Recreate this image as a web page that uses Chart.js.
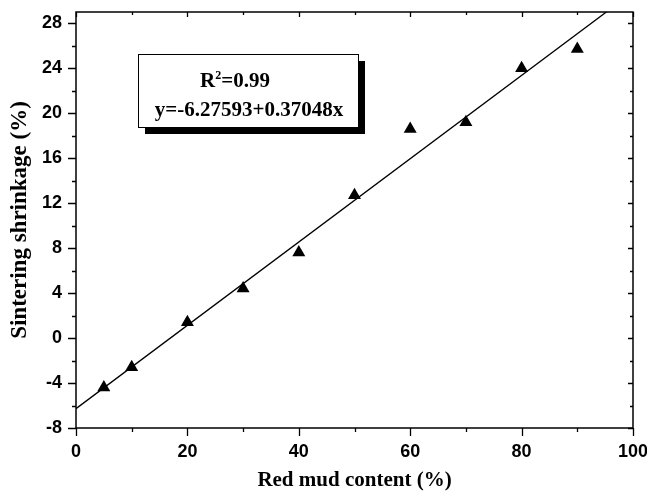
<!DOCTYPE html>
<html><head><meta charset="utf-8">
<script src="https://cdn.jsdelivr.net/npm/chart.js@4.4.1/dist/chart.umd.min.js"></script>
<style>html,body{margin:0;padding:0;background:#fff}canvas{display:block}</style>
</head><body>
<canvas id="c" width="647" height="494"></canvas>
<script>
// ---- data ----
const redMud = [5, 10, 20, 30, 40, 50, 60, 70, 80, 90];
const shrinkage = [-4.4, -2.6, 1.4, 4.4, 7.6, 12.7, 18.6, 19.2, 24.0, 25.7];
const fitX = [0, 100];
const fitY = [-6.27593, 30.77207];
const xTicks = [0, 20, 40, 60, 80, 100];
const xMinor = [10, 30, 50, 70, 90];
const yTicks = [-8, -4, 0, 4, 8, 12, 16, 20, 24, 28];
const yMinor = [-6, -2, 2, 6, 10, 14, 18, 22, 26];
const r2Text = ['R', '2', '=0.99'];
const eqText = 'y=-6.27593+0.37048x';
const xTitle = 'Red mud content (%)';
const yTitle = 'Sintering shrinkage (%)';

const SANS = "'Liberation Sans', Arial, sans-serif";
const SERIF = "'Liberation Serif', 'Times New Roman', serif";

const framePlugin = {
  id: 'frame',
  afterDraw(chart) {
    const ctx = chart.ctx, ca = chart.chartArea;
    const xs = chart.scales.x, ys = chart.scales.y;
    ctx.save();
    ctx.strokeStyle = '#000';
    ctx.lineWidth = 1.5;
    ctx.strokeRect(ca.left, ca.top, ca.right - ca.left, ca.bottom - ca.top);
    ctx.lineWidth = 1.3;
    ctx.beginPath();
    const tickX = (vals, len, inLen) => vals.forEach(v => {
      const p = Math.round(xs.getPixelForValue(v)) + 0.5;
      ctx.moveTo(p, ca.bottom); ctx.lineTo(p, ca.bottom + len);
      ctx.moveTo(p, ca.top); ctx.lineTo(p, ca.top + inLen);
    });
    const tickY = (vals, len, inLen) => vals.forEach(v => {
      const p = Math.round(ys.getPixelForValue(v)) + 0.5;
      ctx.moveTo(ca.left, p); ctx.lineTo(ca.left - len, p);
      ctx.moveTo(ca.right, p); ctx.lineTo(ca.right - inLen, p);
    });
    tickX(xTicks, 8, 5); tickX(xMinor, 4, 3);
    tickY(yTicks, 8, 5); tickY(yMinor, 4, 3);
    ctx.stroke();

    // equation box with shadow
    const bx = ca.left + 62, by = ca.top + 42, bw = 220, bh = 73;
    ctx.fillStyle = '#000';
    ctx.fillRect(bx + 7, by + 7, bw, bh);
    ctx.fillStyle = '#fff';
    ctx.fillRect(bx, by, bw, bh);
    ctx.lineWidth = 1;
    ctx.strokeStyle = '#000';
    ctx.strokeRect(bx + 0.5, by + 0.5, bw, bh);

    ctx.fillStyle = '#000';
    ctx.textBaseline = 'alphabetic';
    ctx.textAlign = 'left';
    ctx.font = 'bold 21px ' + SERIF;
    let x = bx + 62;
    const base1 = by + 33;
    ctx.fillText(r2Text[0], x, base1);
    x += ctx.measureText(r2Text[0]).width;
    ctx.font = 'bold 12px ' + SERIF;
    ctx.fillText(r2Text[1], x, base1 - 8);
    x += ctx.measureText(r2Text[1]).width;
    ctx.font = 'bold 21px ' + SERIF;
    ctx.fillText(r2Text[2], x, base1);

    ctx.textAlign = 'center';
    ctx.fillText(eqText, bx + bw / 2 + 1, by + 62);
    ctx.restore();
  }
};

new Chart(document.getElementById('c'), {
  data: {
    datasets: [
      {
        type: 'line',
        data: fitX.map((v, i) => ({ x: v, y: fitY[i] })),
        borderColor: '#000',
        borderWidth: 1.3,
        pointRadius: 0,
        fill: false
      },
      {
        type: 'scatter',
        data: redMud.map((v, i) => ({ x: v, y: shrinkage[i] })),
        pointStyle: 'triangle',
        radius: 7.5,
        backgroundColor: '#000',
        borderColor: '#000',
        borderWidth: 0
      }
    ]
  },
  options: {
    responsive: false,
    animation: false,
    events: [],
    layout: { padding: { top: 12, right: 14, left: 0, bottom: 0 } },
    plugins: { legend: { display: false }, tooltip: { enabled: false } },
    scales: {
      x: {
        type: 'linear', position: 'bottom', min: 0, max: 100,
        afterBuildTicks: s => { s.ticks = xTicks.map(v => ({ value: v })); },
        afterFit: s => { s.height = 66; s.paddingLeft = 0; s.paddingRight = 0; },
        grid: { display: false, drawTicks: false },
        border: { display: false },
        ticks: { color: '#000', font: { family: SANS, size: 18, weight: 'bold' }, padding: 13, maxRotation: 0, autoSkip: false },
        title: { display: true, text: xTitle, color: '#000', font: { family: SERIF, size: 21, weight: 'bold' }, padding: { top: 0, bottom: 1 } }
      },
      y: {
        type: 'linear', position: 'left', min: -8, max: 29,
        afterBuildTicks: s => { s.ticks = yTicks.map(v => ({ value: v })); },
        afterFit: s => { s.width = 76; s.paddingTop = 0; s.paddingBottom = 0; },
        grid: { display: false, drawTicks: false },
        border: { display: false },
        ticks: { color: '#000', font: { family: SANS, size: 18, weight: 'bold' }, padding: 14, autoSkip: false },
        title: { display: true, text: yTitle, color: '#000', font: { family: SERIF, size: 23, weight: 'bold' }, padding: { top: 6, bottom: 0 } }
      }
    }
  },
  plugins: [framePlugin]
});
</script>
</body></html>
